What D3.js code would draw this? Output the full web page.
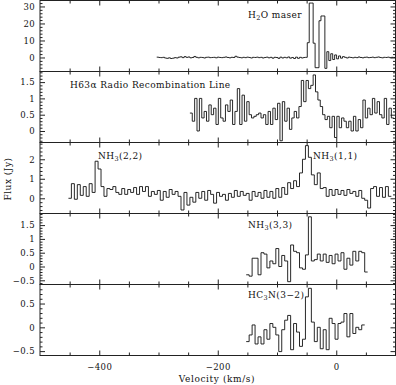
<!DOCTYPE html>
<html>
<head>
<meta charset="utf-8">
<script src="https://cdn.jsdelivr.net/npm/d3@7"></script>
<style>
body { margin: 0; background: #fff; }
svg text { font-family: "DejaVu Serif", serif; fill: #111; }
</style>
</head>
<body>
<div id="chart"></div>
<script>
// each spectrum: velocity of first channel edge, channel width (km/s), flux per channel (Jy)
const maserStart = -303, maserWidth = 3.3;
const maserFlux = [
    0.2, 0, -0.1, 0.1, -0.3, -0.5, -0.2, -0.6, -0.4, -0.1,
    -0.3, 0.2, 0.4, -0.1, 0.5, 0.1, 0.3, -0.2, 0, 0.6,
    0.1, -0.2, 0.1, 0, -0.3, 0.1, 0.2, -0.1, 0, 0.1,
    -0.2, 0.2, 0, -0.1, 0.1, 0.3, 0, -0.2, 0.1, 0,
    0.7, 0.2, 0, -0.2, 0.1, -0.1, 0.2, 0, -0.3, 0.1,
    0, 0.2, -0.1, 0.1, -0.3, 0, 0.2, -0.2, 0.1, -0.4,
    0.1, 0, -0.5, 0.2, -0.3, 0.1, -0.2, 0.3, -0.4, 0,
    -0.6, 0.2, -0.5, 0.1, -0.3, 0, 0.1, 8.7, 32, 32,
    8.4, -6, -6, 21.6, 24.4, 24.4, -6.4, 3.4, -1.8, 2.2,
    -1.2, 1.5, -0.8, 0.9, -0.4, 0.5, 0.1, -0.3, 0.2, 0,
    -0.2, 0.1, -0.1, 0.3, 0, -0.2, 0.1, 0.2, -0.1, 0,
    0.2, -0.1, 0.1, 0.3, 0, -0.2, 0.1, 0, 0.2, -0.1,
    0.1, 0
];

const rrlStart = -247, rrlWidth = 4;
const rrlFlux = [
    0.55, 0.3, 1.0, 0.0, 1.0, 0.4, 0.6, 0.3, 0.8, 0.5,
    0.7, 0.2, 1.0, 0.4, 0.3, 0.8, 0.6, 0.95, 0.2, 0.6,
    1.3, 0.2, 1.1, 0.3, 0.9, 0.5, 0.4, 0.45, 0.5, 0.55,
    0.4, 0.5, 0.2, 0.6, 0.2, 0.7, 0.35, 0.85, -0.3, 0.9,
    0.3, 0.7, 0.05, 0.4, 0.6, 0.4, 0.75, 1.55, 0.9, 1.55,
    1.3, 1.4, 1.72, 1.2, 0.95, 0.75, 0.5, 0.35, 0.45, 0.1,
    0.45, -0.2, 0.45, 0.1, 0.4, 0.3, 0.1, 0.3, 0.0, 0.45,
    0.0, 0.35, 0.1, 0.95, 0.4, 0.7, 0.5, 1.0, 0.55, 0.9,
    0.5, 0.4, 1.0, 0.2, 0.7, 0.4
];

const nh3Start = -452, nh3Width = 5;
const nh3Flux = [
    0.0, 0.75, -0.05, 0.7, 0.15, 0.6, 0.1, 0.75, 0.3, 1.9,
    1.5, 0.6, 0.1, 0.5, 0.45, 0.6, 0.3, 0.2, 0.5, 0.2,
    0.45, 0.3, 0.55, 0.2, 0.6, 0.35, 0.6, 0.1, 0.35, 0.2,
    0.4, -0.1, 0.35, 0.05, 0.45, 0.2, 0.35, 0.1, -0.6, 0.3,
    -0.35, 0.05, -0.2, 0.3, 0.0, 0.35, -0.1, 0.4, 0.2, -0.25,
    0.3, 0.1, 0.2, -0.1, 0.25, 0.05, 0.4, 0.1, 0.35, 0.15,
    0.25, -0.1, 0.35, 0.1, 0.3, 0.0, 0.4, 0.05, 0.35, 0.0,
    0.5, 0.05, 0.55, 0.2, 0.8, 0.5, 0.9, 0.6, 1.3, 2.0,
    2.7, 2.1, 1.2, 0.7, 1.3, 0.5, 0.55, 0.1, 0.45, 0.15,
    0.45, 0.2, 0.4, 0.15, 0.45, 0.25, 0.35, 0.1, 0.4, 0.0,
    -0.1, -0.5, 0.5, 0.6, 0.1, 0.55, 0.05, 0.6, 0.1
];

const nh33Start = -152, nh33Width = 5;
const nh33Flux = [
    -0.3, -0.35, 0.3, 0.3, -0.3, 0.5, 0.45, -0.05, 0.2, 0.1,
    0.65, 0.0, 0.4, 0.2, -0.55, 0.78, 0.55, 0.5, -0.05, -0.1,
    0.42, 1.8, 0.2, 0.25, 0.45, 0.2, 0.45, 0.15, 0.4, 0.1,
    0.45, 0.2, 0.5, -0.1, 0.3, 0.05, 0.55, 0.2, 0.55, 0.5,
    -0.2
];

const hc3nStart = -152, hc3nWidth = 5;
const hc3nFlux = [
    -0.3, -0.16, 0.05, -0.35, -0.2, -0.35, -0.05, -0.25, 0.08, 0.0,
    -0.16, -0.51, -0.05, 0.15, 0.25, -0.47, 0.08, -0.1, -0.4, -0.25,
    0.64, 0.82, 0.11, -0.3, 0.0, -0.45, -0.05, -0.47, 0.19, 0.08,
    -0.25, 0.08, 0.11, 0.29, -0.2, 0.29, -0.13, 0.0, -0.05, 0.05
];

const xMajor = [-400, -200, 0];
const xMinor = [-450, -350, -300, -250, -150, -100, -50, 50];

const width = 396, height = 385;
const left = 40, right = 395.5;
const panelTop = [0.5, 71.5, 142.5, 213.5, 284.5];
const panelH = 71;

let svg = d3.select("#chart").append("svg")
    .attr("width", width)
    .attr("height", height);

let x = d3.scaleLinear().domain([-500, 100]).range([left, right]);

// label parts: [text, isSubscript]
let panels = [
    {start: maserStart, w: maserWidth, flux: maserFlux, domain: [-8.24, 33.5],
        major: [0, 10, 20, 30], minorStep: 2,
        labels: [{x: 248, y: 18, parts: [["H", 0], ["2", 1], ["O maser", 0]]}]},
    {start: rrlStart, w: rrlWidth, flux: rrlFlux, domain: [-0.353, 1.825],
        major: [0, 0.5, 1, 1.5], minorStep: 0.1,
        labels: [{x: 70, y: 88, parts: [["H63α Radio Recombination Line", 0]]}]},
    {start: nh3Start, w: nh3Width, flux: nh3Flux, domain: [-0.78, 2.86],
        major: [0, 1, 2], minorStep: 0.2,
        labels: [{x: 98, y: 159, parts: [["NH", 0], ["3", 1], ["(2,2)", 0]]},
                 {x: 313, y: 159, parts: [["NH", 0], ["3", 1], ["(1,1)", 0]]}]},
    {start: nh33Start, w: nh33Width, flux: nh33Flux, domain: [-0.652, 1.92],
        major: [-0.5, 0, 0.5, 1, 1.5], minorStep: 0.1,
        labels: [{x: 248, y: 228, parts: [["NH", 0], ["3", 1], ["(3,3)", 0]]}]},
    {start: hc3nStart, w: hc3nWidth, flux: hc3nFlux, domain: [-0.592, 0.9],
        major: [-0.5, 0, 0.5], minorStep: 0.1,
        labels: [{x: 248, y: 298, parts: [["HC", 0], ["3", 1], ["N(3−2)", 0]]}]}
];

let fmt = d3.format("~g");

panels.forEach((p, k) => {
    let top = panelTop[k];
    let bottom = top + panelH;
    let y = d3.scaleLinear().domain(p.domain).range([bottom, top]);
    let g = svg.append("g");

    // clip the spectrum to the box
    g.append("clipPath").attr("id", "clip" + k)
        .append("rect")
        .attr("x", left).attr("y", top)
        .attr("width", right - left).attr("height", panelH);

    let minor = d3.range(Math.ceil(p.domain[0] / p.minorStep) * p.minorStep, p.domain[1], p.minorStep)
        .filter(v => !p.major.some(m => Math.abs(m - v) < 1e-6));

    // y axes, ticks pointing inside
    g.append("g").attr("transform", "translate(" + left + ",0)")
        .call(d3.axisLeft(y).tickValues(p.major).tickSize(-5).tickSizeOuter(0).tickPadding(5).tickFormat(fmt));
    g.append("g").attr("transform", "translate(" + left + ",0)")
        .call(d3.axisLeft(y).tickValues(minor).tickSize(-2.5).tickSizeOuter(0).tickFormat(""));
    g.append("g").attr("transform", "translate(" + right + ",0)")
        .call(d3.axisRight(y).tickValues(p.major).tickSize(-5).tickSizeOuter(0).tickFormat(""));
    g.append("g").attr("transform", "translate(" + right + ",0)")
        .call(d3.axisRight(y).tickValues(minor).tickSize(-2.5).tickSizeOuter(0).tickFormat(""));

    // x axes top and bottom
    g.append("g").attr("transform", "translate(0," + top + ")")
        .call(d3.axisTop(x).tickValues(xMajor).tickSize(-5).tickSizeOuter(0).tickFormat(""));
    g.append("g").attr("transform", "translate(0," + top + ")")
        .call(d3.axisTop(x).tickValues(xMinor).tickSize(-3).tickSizeOuter(0).tickFormat(""));
    let isLast = k == panels.length - 1;
    g.append("g").attr("transform", "translate(0," + bottom + ")")
        .call(d3.axisBottom(x).tickValues(xMajor).tickSize(-5).tickSizeOuter(0)
            .tickPadding(8).tickFormat(isLast ? fmt : ""));
    g.append("g").attr("transform", "translate(0," + bottom + ")")
        .call(d3.axisBottom(x).tickValues(xMinor).tickSize(-3).tickSizeOuter(0).tickFormat(""));

    // spectrum as histogram steps
    let pts = p.flux.map((f, i) => [p.start + i * p.w, f]);
    pts.push([p.start + p.flux.length * p.w, p.flux[p.flux.length - 1]]);
    let line = d3.line()
        .x(d => x(d[0]))
        .y(d => y(d[1]))
        .curve(d3.curveStepAfter);
    g.append("path")
        .datum(pts)
        .attr("clip-path", "url(#clip" + k + ")")
        .attr("d", line)
        .attr("fill", "none")
        .attr("stroke", "#111")
        .attr("stroke-width", 0.9);

    // box
    g.append("rect")
        .attr("x", left).attr("y", top)
        .attr("width", right - left).attr("height", panelH)
        .attr("fill", "none")
        .attr("stroke", "#222")
        .attr("stroke-width", 1);

    p.labels.forEach(l => {
        let t = g.append("text")
            .attr("x", l.x).attr("y", l.y)
            .style("font-size", "9px")
            .style("letter-spacing", "0.4px");
        l.parts.forEach(part => {
            let s = t.append("tspan").text(part[0]);
            if (part[1]) s.style("font-size", "6.5px").attr("dy", 2);
            else if (part !== l.parts[0]) s.attr("dy", -2);
        });
    });
});

svg.selectAll(".domain").remove();
svg.selectAll(".tick line").attr("stroke", "#222");
svg.selectAll(".tick text")
    .style("font-family", '"DejaVu Serif", serif')
    .style("font-size", "8.5px")
    .style("letter-spacing", "0.4px")
    .attr("fill", "#111");

svg.append("text")
    .text("Velocity (km/s)")
    .attr("x", 217)
    .attr("y", 382)
    .attr("text-anchor", "middle")
    .style("font-size", "9px")
    .style("letter-spacing", "0.6px");

svg.append("text")
    .text("Flux (Jy)")
    .attr("text-anchor", "middle")
    .attr("transform", "translate(11,179) rotate(-90)")
    .style("font-size", "9px")
    .style("letter-spacing", "0.5px");
</script>
</body>
</html>
